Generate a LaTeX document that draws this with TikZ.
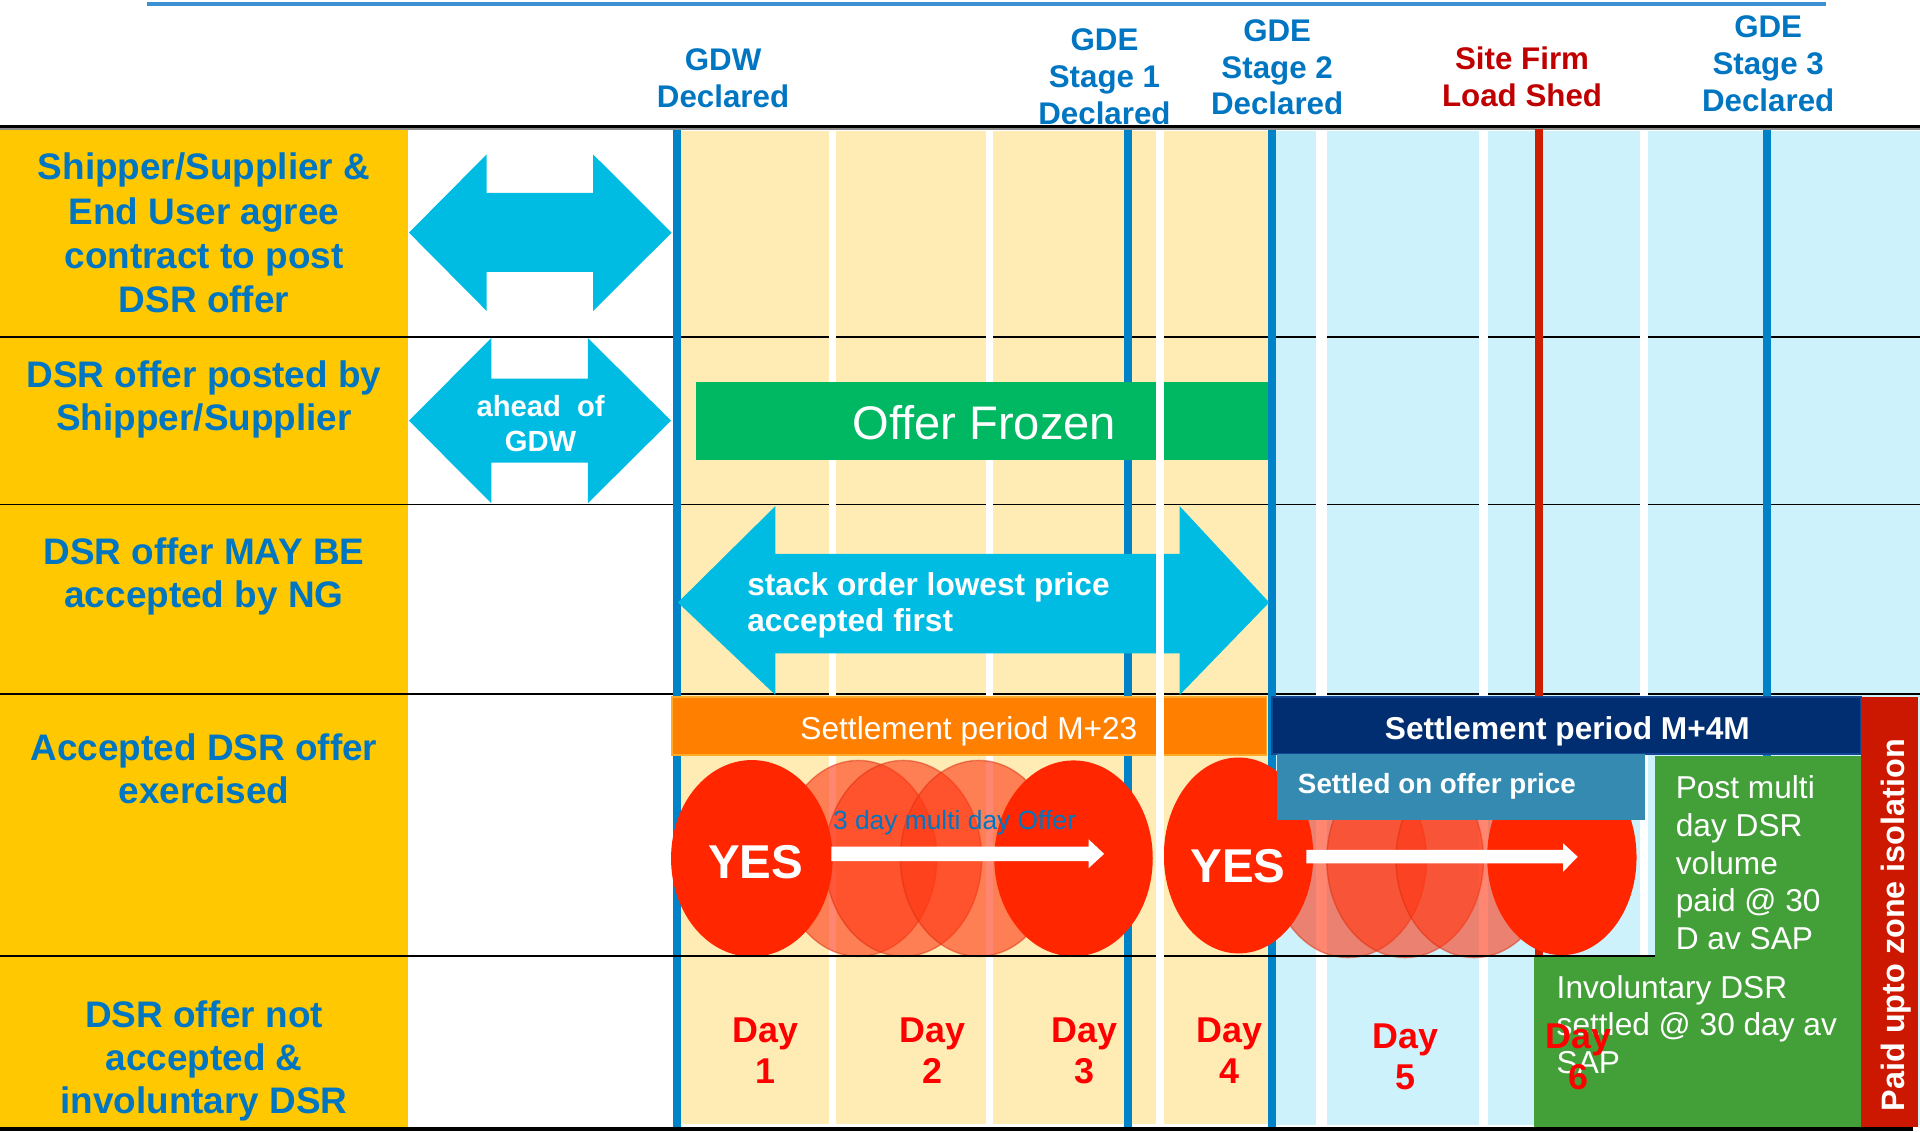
\documentclass[tikz,border=0pt]{standalone}
\usepackage{fontspec}
\setmainfont{Liberation Sans}
\definecolor{gold}{RGB}{255,200,0}
\definecolor{paleyellow}{RGB}{255,236,180}
\definecolor{paleblue}{RGB}{205,242,252}
\definecolor{lineblue}{RGB}{0,130,200}
\definecolor{topblue}{RGB}{60,145,210}
\definecolor{textblue}{RGB}{0,118,194}
\definecolor{firmred}{RGB}{192,0,0}
\definecolor{shedred}{RGB}{205,30,0}
\definecolor{arrowcyan}{RGB}{0,188,226}
\definecolor{frozengreen}{RGB}{0,184,98}
\definecolor{settleorange}{RGB}{255,128,0}
\definecolor{settleedge}{RGB}{255,170,40}
\definecolor{settlenavy}{RGB}{0,46,112}
\definecolor{navyedge}{RGB}{20,70,150}
\definecolor{offerblue}{RGB}{52,138,176}
\definecolor{paygreen}{RGB}{67,160,56}
\definecolor{isored}{RGB}{204,24,0}
\definecolor{yesred}{RGB}{255,38,0}
\definecolor{ghostred}{RGB}{255,55,20}
\definecolor{dayred}{RGB}{255,0,0}
\begin{document}
\begin{tikzpicture}[x=0.012245cm,y=-0.012245cm,
  every node/.style={inner sep=0pt,outer sep=0pt},
  % multi-line nodes: the base anchor sits on the last line
  rowlabel/.style={text=textblue,font=\fontsize{10.5}{12.2}\selectfont\bfseries,align=center,anchor=base},
  milestone/.style={text=textblue,font=\fontsize{8.9}{10.5}\selectfont\bfseries,align=center,anchor=base},
  daylabel/.style={text=dayred,font=\fontsize{10.2}{11.8}\selectfont\bfseries,align=center,anchor=base},
  gap/.style={fill=white},
  gate/.style={line width=2.4pt,draw=lineblue},
  rowline/.style={line width=0.55pt,draw=black},
  cyanarrow/.style={fill=arrowcyan},
  ghost/.style={fill=ghostred,fill opacity=0.6,draw=ghostred!85!black,draw opacity=0.5,line width=0.4pt},
  yes/.style={fill=yesred},
  yestxt/.style={text=white,font=\fontsize{13.5}{15}\selectfont\bfseries,anchor=base},
  bartxt/.style={text=white,font=\fontsize{9}{10.7}\selectfont},
  paytxt/.style={text=white,font=\fontsize{9}{10.7}\selectfont,align=left,anchor=base west}
]
\useasboundingbox (0,0) rectangle (1568,924);

% frame line along the top
\draw[topblue,line width=1.1pt] (120,3.5) -- (1491,3.5);

% milestone headings
\node[milestone] (gdw)  at (590.5,87.6) {GDW\\Declared};
\begin{scope}
  % the stage 1 heading sits in a box that trims its last line
  \clip (840,0) rectangle (954.5,100.6);
  \node[milestone] (gde1) at (902,101.8)  {GDE\\Stage 1\\Declared};
\end{scope}
\node[milestone] (gde2) at (1043,93.9)  {GDE\\Stage 2\\Declared};
\node[milestone,text=firmred] (firm) at (1243,87.1) {Site Firm\\Load Shed};
\node[milestone] (gde3) at (1444,91.2)  {GDE\\Stage 3\\Declared};

% backgrounds
\fill[gold] (0,106) rectangle (333.5,921);
\fill[paleyellow] (556,107) rectangle (1036,918);
\fill[paleblue] (1042,107) rectangle (1568,919);

% row separators
\foreach \yy in {275,412,567}
  \draw[rowline] (0,\yy) -- (1568,\yy);

% white gaps between the days
\fill[gap] (677,107) rectangle (683,919);
\fill[gap] (805,107) rectangle (811,919);
\fill[gap] (1075,107) rectangle (1083.5,919);
\fill[gap] (1208,107) rectangle (1215,919);
\fill[gap] (1339.5,107) rectangle (1346,919);

% heading rule
\draw[black,line width=0.95pt] (0,103.4) -- (1568,103.4);
\draw[black!45,line width=0.4pt] (0,105.2) -- (1568,105.2);

% milestone lines
\draw[gate] (553,106) -- (553,921);
\draw[gate] (921.3,106) -- (921.3,921);
\draw[gate] (1039,106) -- (1039,921);
\draw[gate] (1443,106) -- (1443,921);
\draw[line width=2.4pt,draw=shedred] (1257,105) -- (1257,920);

% double arrows
\fill[cyanarrow] (334,190) -- (397.5,126) -- (397.5,157.4) -- (484.3,157.4) -- (484.3,126)
  -- (548.5,190) -- (484.3,254) -- (484.3,222) -- (397.5,222) -- (397.5,254) -- cycle;
\fill[cyanarrow] (334,343.5) -- (401.3,276) -- (401.3,309.2) -- (480,309.2) -- (480,276)
  -- (548,343.5) -- (480,411) -- (480,377.8) -- (401.3,377.8) -- (401.3,411) -- cycle;
\node[text=white,font=\fontsize{8.3}{9.9}\selectfont\bfseries,align=center,anchor=base]
  (ahead) at (441.5,368.9) {ahead\ \ of\\GDW};
\fill[cyanarrow] (553.6,492) -- (633.3,413.2) -- (633.3,452.4) -- (963.3,452.4) -- (963.3,413.2)
  -- (1036.5,492) -- (963.3,567.6) -- (963.3,533.6) -- (633.3,533.6) -- (633.3,567.6) -- cycle;
\node[text=white,font=\fontsize{9}{10.4}\selectfont\bfseries,align=left,anchor=base west]
  (stack) at (610.3,515.9) {stack order lowest price\\accepted first};

% offer frozen bar
\fill[frozengreen] (568.6,312.2) rectangle (1035.6,375.7);
\node[text=white,font=\fontsize{13.4}{15}\selectfont,anchor=base] (frozen) at (803.8,359.3) {Offer Frozen};

% settlement bars
\filldraw[fill=settleorange,draw=settleedge,line width=0.5pt] (548.6,569) rectangle (1034.3,616.6);
\node[bartxt,anchor=base west] (m23) at (653.7,603.8) {Settlement period M+23};
\filldraw[fill=settlenavy,draw=navyedge,line width=0.5pt] (1038.6,569) rectangle (1519.8,615.8);
\node[bartxt,font=\fontsize{9}{10.7}\selectfont\bfseries,anchor=base] (m4m) at (1280,604.3) {Settlement period M+4M};

% multi day offers
\foreach \cx in {701,737.7,799.3}
  \filldraw[ghost] (\cx,701) ellipse [x radius=64, y radius=80];
\foreach \cx in {1101,1147.5,1204}
  \filldraw[ghost] (\cx,702) ellipse [x radius=64, y radius=80];
\fill[yes] (614,701) ellipse [x radius=66, y radius=80.3];
\fill[yes] (876.7,701) ellipse [x radius=64.7, y radius=80];
\fill[yes] (1011.5,698.6) ellipse [x radius=61, y radius=80];
\fill[yes] (1275.5,700) ellipse [x radius=61, y radius=80];
\node[yestxt] (yes1) at (617,717.3) {YES};
\node[yestxt] (yes2) at (1011,720.5) {YES};
\fill[white] (679,691.4) -- (889,691.4) -- (889,685.4) -- (901.7,697.3) -- (889,709) -- (889,703.2) -- (679,703.2) -- cycle;
\fill[white] (1066.8,694) -- (1276.5,694) -- (1276.5,688.7) -- (1288.5,699.7) -- (1276.5,711.9) -- (1276.5,705) -- (1066.8,705) -- cycle;
\node[text=textblue,font=\fontsize{7.5}{9}\selectfont,anchor=base west] (multi) at (680.3,677.8) {3 day multi day Offer};

% settlement outcomes
\fill[offerblue] (1042.7,615.8) rectangle (1343.4,670);
\node[text=white,font=\fontsize{7.9}{9.5}\selectfont\bfseries,anchor=base west] (offerprice) at (1060,647.9) {Settled on offer price};
\fill[paygreen] (1351.4,617.4) rectangle (1521,782);
\fill[paygreen] (1253,781.7) rectangle (1521,920);
\node[paytxt] (post) at (1368.6,775.3) {Post multi\\day DSR\\volume\\paid @ 30\\D av SAP};
\node[paytxt] (invol) at (1271.3,876.5) {Involuntary DSR\\settled @ 30 day av\\SAP};
\fill[isored] (1520,569) rectangle (1566.5,920);
\node[rotate=90,anchor=base,text=white,font=\fontsize{9.2}{11}\selectfont\bfseries] (iso) at (1555,755.6) {Paid upto zone isolation};

% separator above the last row
\draw[rowline] (0,781) -- (1351.4,781);

% day labels
\node[daylabel] (day1) at (625,885)    {Day\\1};
\node[daylabel] (day2) at (761.6,885)  {Day\\2};
\node[daylabel] (day3) at (885.7,885)  {Day\\3};
\node[daylabel] (day4) at (1004,885)   {Day\\4};
\node[daylabel] (day5) at (1148,890)   {Day\\5};
\node[daylabel] (day6) at (1289,890)   {Day\\6};

% gap after GDE stage 1, over everything
\fill[gap] (944,107) rectangle (950.5,919);

% row labels
\node[rowlabel,font=\fontsize{10.5}{12.6}\selectfont\bfseries] (r1) at (166.6,255.3) {Shipper/Supplier \&\\End User agree\\contract to post\\DSR offer};
\node[rowlabel] (r2) at (166.6,351.2) {DSR offer posted by\\Shipper/Supplier};
\node[rowlabel] (r3) at (166.6,496.4) {DSR offer MAY BE\\accepted by NG};
\node[rowlabel] (r4) at (166.6,656.4) {Accepted DSR offer\\exercised};
\node[rowlabel] (r5) at (166.6,909.5) {DSR offer not\\accepted \&\\involuntary DSR};

% bottom rule
\draw[black,line width=1.2pt] (0,922) -- (1562,922);
\end{tikzpicture}
\end{document}
